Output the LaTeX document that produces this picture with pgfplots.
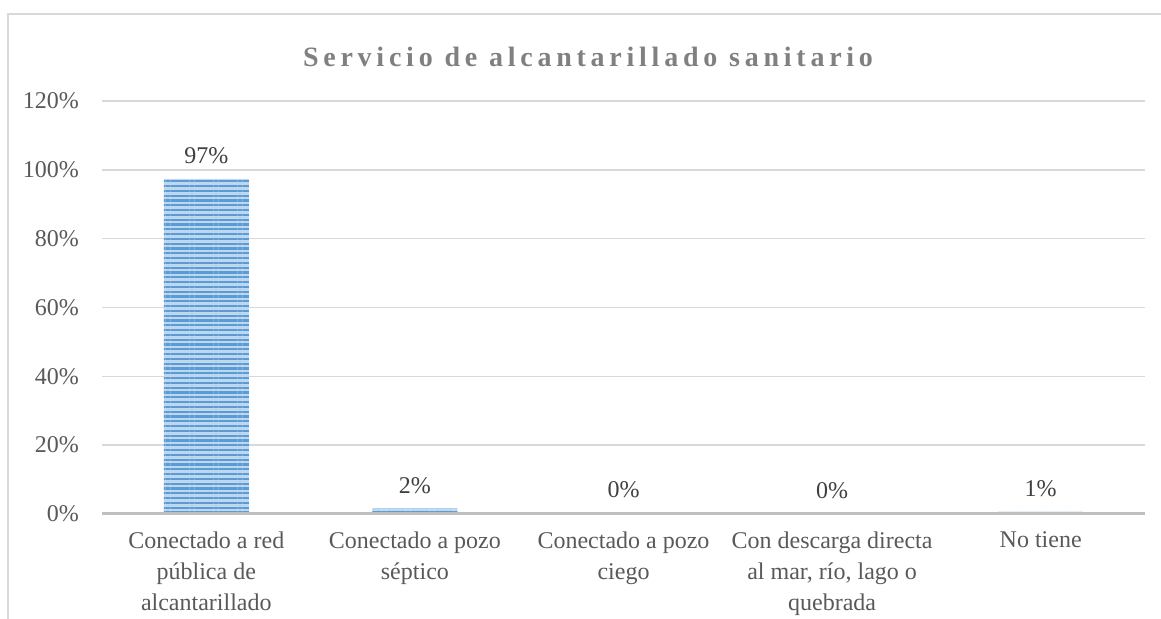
\documentclass[border=0pt]{standalone}
\usepackage{fontspec}
\setmainfont{Liberation Serif}
\usepackage{pgfplots}
\pgfplotsset{compat=1.18}
\usetikzlibrary{patterns.meta}
\definecolor{gridc}{HTML}{D9D9D9}
\definecolor{axisc}{HTML}{BFBFBF}
\definecolor{txt}{HTML}{595959}
\definecolor{lbl}{HTML}{404040}
\definecolor{titlec}{HTML}{808080}
\definecolor{barA}{HTML}{5B9BD5}
\definecolor{barB}{HTML}{BDD7EE}
\begin{document}
\begin{tikzpicture}
\path[use as bounding box] (0,0) rectangle (580.5pt,309pt);
\draw[gridc, line width=1pt] (4pt,-2pt) -- (4pt,302pt) -- (582pt,302pt);
\node[anchor=base, inner sep=0pt, font=\fontsize{14}{17}\selectfont\bfseries\addfontfeature{LetterSpace=17}, text=titlec] at (294pt,276pt) {Servicio de alcantarillado sanitario};
\begin{axis}[
  at={(51pt,52pt)}, anchor=south west, scale only axis,
  width=521.5pt, height=206.5pt,
  xmin=-0.5, xmax=4.5, ymin=0, ymax=120,
  axis line style={draw=none},
  major tick length=0pt,
  ytick={0,20,...,120},
  ymajorgrids, grid style={gridc, line width=0.75pt},
  /pgf/number format/assume math mode=true,
  yticklabel={\pgfmathprintnumber{\tick}\%},
  yticklabel style={text=txt, font=\fontsize{12}{14}\selectfont, xshift=-8pt},
  xtick={0,1,2,3,4},
  xticklabels={{Conectado a red\\pública de\\alcantarillado},{Conectado a pozo\\séptico},{Conectado a pozo\\ciego},{Con descarga directa\\al mar, río, lago o\\quebrada},{No tiene}},
  xticklabel style={text=txt, font=\fontsize{12}{15.5}\selectfont, align=center, anchor=north, yshift=-5.5pt},
  ybar, bar width=42.5pt,
  nodes near coords={\pgfmathprintnumber[fixed,precision=0]{\pgfplotspointmeta}\%},
  nodes near coords style={text=lbl, font=\fontsize{12}{14}\selectfont, yshift=4pt},
]
\addplot[draw=none, fill=barB, postaction={pattern={Lines[angle=0,distance=2.4pt,line width=1.1pt]}, pattern color=barA}]
  coordinates {(0,97.4) (1,1.6) (2,0.2) (3,0.1) (4,0.6)};
\draw[axisc, line width=1.75pt] (axis cs:-0.5,0) -- (axis cs:4.5,0);
\end{axis}
\end{tikzpicture}
\end{document}
